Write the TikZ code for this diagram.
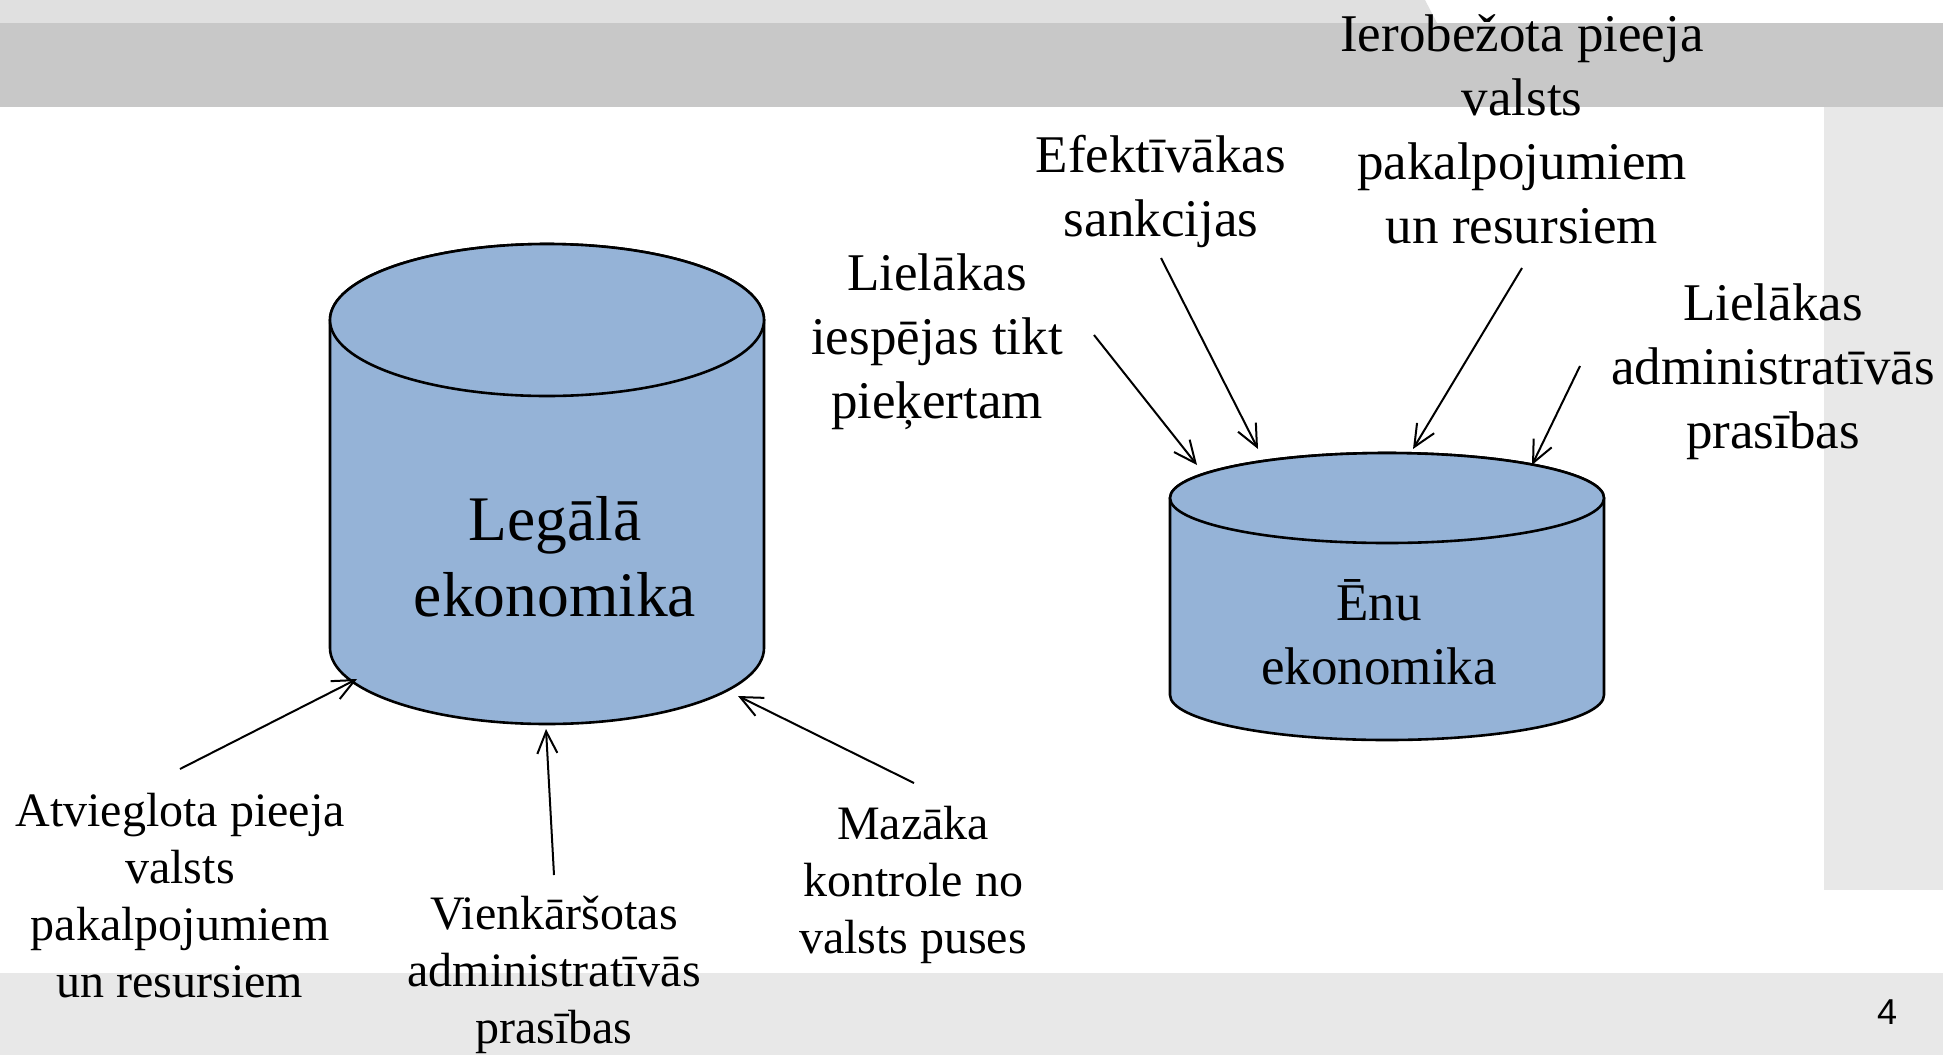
\documentclass[tikz,border=0pt]{standalone}
\usepackage{fontspec}
\setmainfont{Liberation Serif}
\newfontfamily\pnfont{Liberation Sans}
\usetikzlibrary{arrows.meta}
\definecolor{cylfill}{HTML}{95B3D7}
\definecolor{bandtop}{HTML}{E0E0E0}
\definecolor{banddark}{HTML}{C8C8C8}
\definecolor{bandlight}{HTML}{E8E8E8}
\begin{document}
\begin{tikzpicture}[x=0.5pt,y=-0.5pt,
 conn/.style={-{Straight Barb[length=11pt,width=10pt]}, line width=1pt},
 cyl/.style={fill=cylfill, draw=black, line width=1.3pt},
 biglbl/.style={font=\fontsize{31.75}{38}\selectfont, align=center, inner sep=0pt},
 toplbl/.style={font=\fontsize{26.5}{32}\selectfont, align=center, inner sep=0pt},
 botlbl/.style={font=\fontsize{24}{28.5}\selectfont, align=center, inner sep=0pt}]
\useasboundingbox (0,0) rectangle (1943,1055);
\fill[white] (0,0) rectangle (1943,1055);
\fill[bandtop] (0,0) -- (1425,0) -- (1437,23) -- (0,23) -- cycle;
\fill[banddark] (0,23) rectangle (1943,107);
\fill[bandlight] (1824,107) rectangle (1943,890);
\fill[bandlight] (0,973) rectangle (1943,1055);
% left cylinder
\path[cyl] (330,320) -- (330,648) arc[start angle=180,end angle=360,x radius=108.5pt,y radius=38pt] -- (764,320) arc[start angle=0,end angle=180,x radius=108.5pt,y radius=38pt] -- cycle;
\path[cyl] (547,320) ellipse[x radius=108.5pt,y radius=38pt];
% right cylinder
\path[cyl] (1170,498) -- (1170,695) arc[start angle=180,end angle=360,x radius=108.5pt,y radius=22.5pt] -- (1604,498) arc[start angle=0,end angle=180,x radius=108.5pt,y radius=22.5pt] -- cycle;
\path[cyl] (1387,498) ellipse[x radius=108.5pt,y radius=22.5pt];
\node[biglbl] (legal) at (555,557) {Legālā\\ekonomika};
\node[toplbl] (enu) at (1379,632) {Ēnu\\ekonomika};
\node[toplbl] (l1) at (937,342) {Lielākas\\iespējas tikt\\pieķertam};
\node[toplbl] (l2) at (1161,191) {Efektīvākas\\sankcijas};
\node[toplbl] (l3) at (1522,129) {Ierobežota pieeja\\valsts\\pakalpojumiem\\un resursiem};
\node[toplbl] (l4) at (1773,372) {Lielākas\\administratīvās\\prasības};
\node[botlbl] (b1) at (180,896) {Atvieglota pieeja\\valsts\\pakalpojumiem\\un resursiem};
\node[botlbl] (b2) at (554,975) {Vienkāršotas\\administratīvās\\prasības};
\node[botlbl] (b3) at (913,885) {Mazāka\\kontrole no\\valsts puses};
\node[font=\pnfont\fontsize{18}{21}\selectfont, inner sep=0pt] (pg) at (1887,1012) {4};
\coordinate (a1s) at (1094,335); \coordinate (a1e) at (1197,465);
\coordinate (a2s) at (1161,258); \coordinate (a2e) at (1258,449);
\coordinate (a3s) at (1522,268); \coordinate (a3e) at (1413,449);
\coordinate (a4s) at (1580,366); \coordinate (a4e) at (1532,465);
\coordinate (c1s) at (180,769); \coordinate (c1e) at (357,679);
\coordinate (c2s) at (554,875); \coordinate (c2e) at (546,729);
\coordinate (c3s) at (914,783); \coordinate (c3e) at (738,696);
\draw[conn] (a1s) -- (a1e);
\draw[conn] (a2s) -- (a2e);
\draw[conn] (a3s) -- (a3e);
\draw[conn] (a4s) -- (a4e);
\draw[conn] (c1s) -- (c1e);
\draw[conn] (c2s) -- (c2e);
\draw[conn] (c3s) -- (c3e);
\end{tikzpicture}
\end{document}
